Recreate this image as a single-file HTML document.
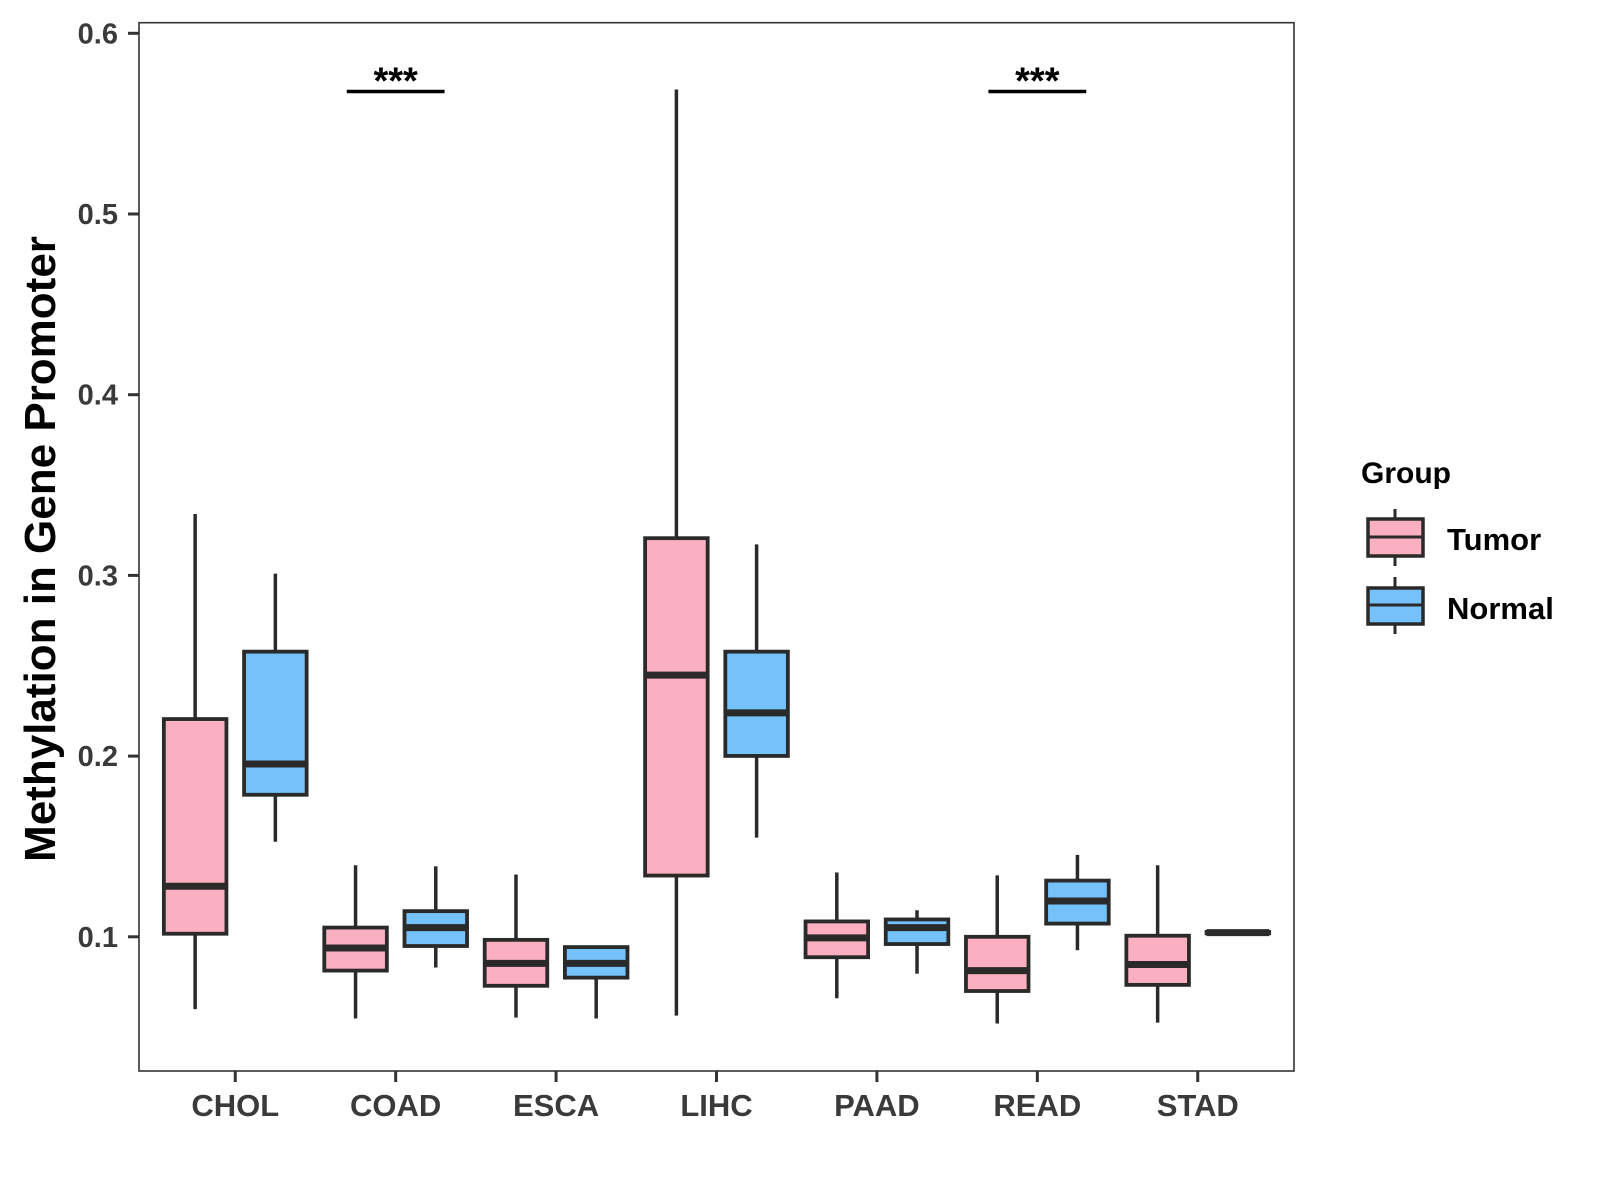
<!DOCTYPE html>
<html><head><meta charset="utf-8"><style>
html,body{margin:0;padding:0;background:#fff;}
svg{display:block;}
text{font-family:"Liberation Sans",Arial,sans-serif;font-weight:bold;}
</style></head><body>
<svg id="chart" width="1600" height="1200" viewBox="0 0 1600 1200" xmlns="http://www.w3.org/2000/svg">
<rect x="0" y="0" width="1600" height="1200" fill="#fff"/>
<g id="plot"></g>
<text transform="translate(55,549) rotate(-90)" text-anchor="middle" font-size="44" fill="#000">Methylation in Gene Promoter</text>
<g>
<text x="1361" y="483" font-size="30" fill="#000">Group</text>
<g>
<line x1="1395" y1="509" x2="1395" y2="566" stroke="#2a2a2a" stroke-width="3"/>
<rect x="1368" y="519" width="55" height="37" fill="#FBB0C1" stroke="#2a2a2a" stroke-width="3.5"/>
<line x1="1368" y1="537" x2="1423" y2="537" stroke="#2a2a2a" stroke-width="3"/>
<text x="1447" y="550" font-size="31" fill="#000">Tumor</text>
</g>
<g>
<line x1="1395" y1="577" x2="1395" y2="634" stroke="#2a2a2a" stroke-width="3"/>
<rect x="1368" y="588" width="55" height="36" fill="#75C1F9" stroke="#2a2a2a" stroke-width="3.5"/>
<line x1="1368" y1="605" x2="1423" y2="605" stroke="#2a2a2a" stroke-width="3"/>
<text x="1447" y="619" font-size="31" fill="#000">Normal</text>
</g>
</g>
</svg>
<script>
const categories = ["CHOL","COAD","ESCA","LIHC","PAAD","READ","STAD"];
const groups = ["Tumor","Normal"];
// [low whisker, Q1, median, Q3, high whisker]
const tumorStats = [
 [0.060,0.1017,0.128,0.2205,0.334],
 [0.0548,0.0813,0.0938,0.1051,0.1396],
 [0.0553,0.0729,0.0853,0.0983,0.1345],
 [0.0564,0.1339,0.2448,0.3206,0.5689],
 [0.066,0.0887,0.0994,0.1085,0.1356],
 [0.052,0.070,0.0813,0.100,0.134],
 [0.0525,0.0734,0.0847,0.1006,0.1396]
];
const normalStats = [
 [0.1526,0.1786,0.1956,0.2578,0.301],
 [0.083,0.0949,0.1051,0.1142,0.139],
 [0.0548,0.0774,0.0853,0.0943,0.095],
 [0.1549,0.2001,0.2239,0.2578,0.3172],
 [0.0796,0.096,0.1051,0.1096,0.1147],
 [0.0926,0.1073,0.1198,0.1311,0.1453],
 [0.1021,0.1019,0.1023,0.1027,0.1025]
];
const yTicks = [0.1,0.2,0.3,0.4,0.5,0.6];
const yTickLabels = ["0.1","0.2","0.3","0.4","0.5","0.6"];
const sigCategories = ["COAD","READ"];
const sigValue = 0.5678;
const sigLabels = ["***","***"];

const NS="http://www.w3.org/2000/svg";
const P={l:139,r:1294,t:22.7,b:1071};
const step=(P.r-P.l)/(categories.length-1+1.2);
function xScale(i){return P.l+(0.6+i)*step;}
function yScale(v){return 33.3+(0.6-v)*1807;}
const fills=["#FBB0C1","#75C1F9"];
const plot=document.getElementById('plot');
function mk(tag,attrs,parent){const e=document.createElementNS(NS,tag);for(const k in attrs)e.setAttribute(k,attrs[k]);(parent||plot).appendChild(e);return e;}

const panel=mk('rect',{x:P.l,y:P.t,width:P.r-P.l,height:P.b-P.t,fill:'none',stroke:'#333',"stroke-width":1.6});



yTicks.forEach((v,i)=>{
 const y=yScale(v);
 const t=mk('line',{x1:P.l-11,x2:P.l,y1:y,y2:y,stroke:'#333',"stroke-width":3});
 
 
 const lb=mk('text',{x:P.l-21,y:y+10,"text-anchor":'end',"font-size":29,fill:'#3a3a3a'});
 lb.textContent=yTickLabels[i];
 
 
});
categories.forEach((c,i)=>{
 const x=xScale(i);
 const t=mk('line',{x1:x,x2:x,y1:P.b,y2:P.b+11,stroke:'#333',"stroke-width":3});
 
 
 const lb=mk('text',{x:x,y:1116,"text-anchor":'middle',"font-size":31,fill:'#3a3a3a'});
 lb.textContent=c;
 
 
});
const offs=[-0.25,0.25], bw=0.39*step;
[tumorStats,normalStats].forEach((stats,g)=>{
 stats.forEach((s,i)=>{
  const cx=xScale(i)+offs[g]*step;
  const grp=mk('g',{});
  
  
  mk('line',{x1:cx,x2:cx,y1:yScale(s[4]),y2:yScale(s[3]),stroke:'#2a2a2a',"stroke-width":3.5},grp);
  mk('line',{x1:cx,x2:cx,y1:yScale(s[1]),y2:yScale(s[0]),stroke:'#2a2a2a',"stroke-width":3.5},grp);
  mk('rect',{x:cx-bw/2,y:yScale(s[3]),width:bw,height:Math.max(0.5,yScale(s[1])-yScale(s[3])),fill:fills[g],stroke:'#2a2a2a',"stroke-width":3.8},grp);
  mk('line',{x1:cx-bw/2,x2:cx+bw/2,y1:yScale(s[2]),y2:yScale(s[2]),stroke:'#2a2a2a',"stroke-width":7},grp);
 });
});
sigCategories.forEach((c,k)=>{
 const i=categories.indexOf(c);
 const x=xScale(i), y=yScale(sigValue);
 const l=mk('line',{x1:x-0.305*step,x2:x+0.305*step,y1:y,y2:y,stroke:'#000',"stroke-width":3.5});
 
 
 const t=mk('text',{x:x,y:y+2,"text-anchor":'middle',"font-size":38,fill:'#000'});
 t.textContent=sigLabels[k];
 
 
});
</script>
</body></html>
